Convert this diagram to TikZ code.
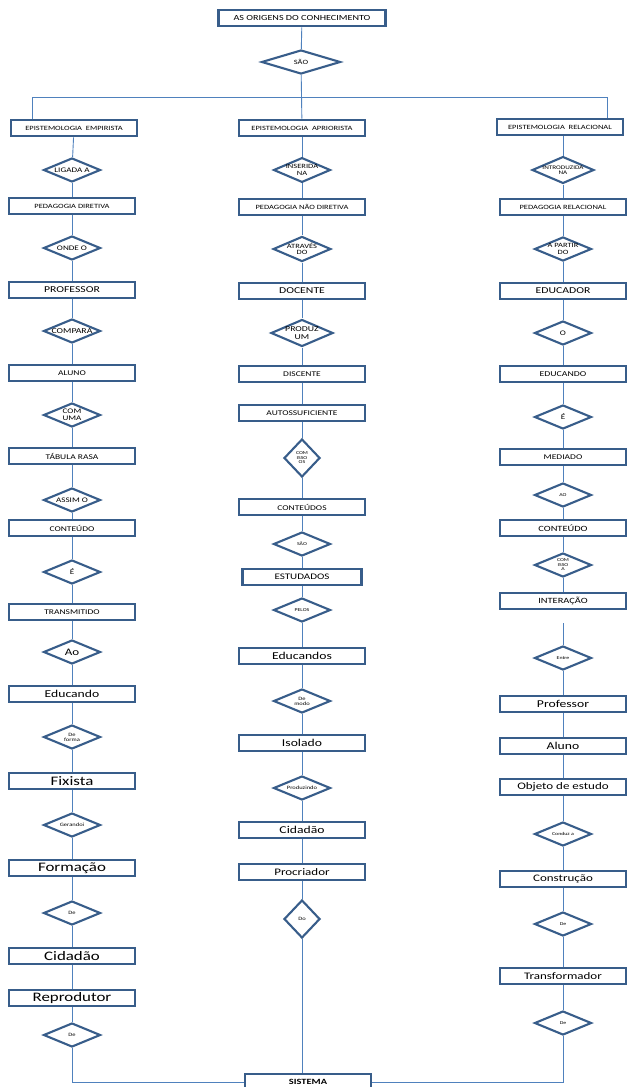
\documentclass[tikz,border=0pt]{standalone}
\usepackage{fontspec}
\setmainfont[FakeStretch=1.3]{Carlito}
\usetikzlibrary{shapes.geometric}
\definecolor{bordblue}{HTML}{385D8A}
\definecolor{lineblue}{HTML}{4F81BD}
\newcommand{\fsz}[1]{\fontsize{#1}{#1}\selectfont}

\begin{document}
\begin{tikzpicture}[x=1pt,y=-1pt,
      bx/.style={draw=bordblue,fill=white,line width=2.4pt,minimum width=126pt,
                 minimum height=16.5pt,inner sep=0pt,font=\fsz{7}},
      dm/.style={draw=bordblue,fill=white,line width=2.1pt,shape=diamond,aspect=2.3,
                 minimum width=57pt,minimum height=24pt,inner sep=0pt,align=center,font=\fsz{4.5}},
      tall/.style={aspect=1,minimum width=36pt,minimum height=38pt},
      ln/.style={lineblue,line width=0.9pt}]
    \fill[white] (0,0) rectangle (628,1087);
    \useasboundingbox (0,0) rectangle (628,1087);

    % topo
    \node[bx,minimum width=167pt,font=\fsz{7.8}] (top) at (302,18) {AS ORIGENS DO CONHECIMENTO};
    \node[dm,minimum width=79pt,font=\fsz{6.5}] (sao) at (301,62) {SÃO};

    % coluna esquerda
    \node[bx,font=\fsz{6.5}] (emp) at (74,128) {EPISTEMOLOGIA\ \ EMPIRISTA};
    \node[dm,font=\fsz{7}] (d1) at (72,170) {LIGADA A};
    \node[bx,font=\fsz{6.5}] (ped) at (72,206) {PEDAGOGIA DIRETIVA};
    \node[dm,font=\fsz{7}] (d2) at (72,248) {ONDE O};
    \node[bx,font=\fsz{9}] (prof) at (72,290) {PROFESSOR};
    \node[dm,font=\fsz{7.5}] (d3) at (72,331) {COMPARA};
    \node[bx,font=\fsz{7.3}] (alu) at (72,373) {ALUNO};
    \node[dm,font=\fsz{7}] (d4) at (72,415) {COM\\UMA};
    \node[bx,font=\fsz{7.3}] (tab) at (72,456) {TÁBULA RASA};
    \node[dm,font=\fsz{7}] (d5) at (72,500) {ASSIM O};
    \node[bx,font=\fsz{7.3}] (cont) at (72,528) {CONTEÚDO};
    \node[dm,font=\fsz{7}] (d6) at (72,572) {É};
    \node[bx,font=\fsz{7.3}] (trans) at (72,612) {TRANSMITIDO};
    \node[dm,font=\fsz{10}] (d7) at (72,652) {Ao};
    \node[bx,font=\fsz{10.5}] (educ) at (72,694) {Educando};
    \node[dm,font=\fsz{5}] (d8) at (72,737) {De\\forma};
    \node[bx,font=\fsz{13}] (fix) at (72,781) {Fixista};
    \node[dm,font=\fsz{5}] (d9) at (72,825) {Gerandoi};
    \node[bx,font=\fsz{13}] (form) at (72,868) {Formação};
    \node[dm,font=\fsz{5}] (d10) at (72,913) {De};
    \node[bx,font=\fsz{13}] (cid) at (72,956) {Cidadão};
    \node[bx,font=\fsz{13}] (rep) at (72,998) {Reprodutor};
    \node[dm,font=\fsz{5}] (d11) at (72,1035) {De};

    % coluna central
    \node[bx,font=\fsz{6.5}] (apr) at (302,128) {EPISTEMOLOGIA\ \ APRIORISTA};
    \node[dm,font=\fsz{6.5}] (m1) at (302,170) {INSERIDA\\NA};
    \node[bx,font=\fsz{6.5}] (pnd) at (302,207) {PEDAGOGIA NÃO DIRETIVA};
    \node[dm,font=\fsz{6.5}] (m2) at (302,249) {ATRAVÉS\\DO};
    \node[bx,font=\fsz{9}] (doc) at (302,291) {DOCENTE};
    \node[dm,font=\fsz{7.5}] (m3) at (302,333) {PRODUZ\\UM};
    \node[bx,font=\fsz{7.3}] (disc) at (302,374) {DISCENTE};
    \node[bx,font=\fsz{7.3}] (auto) at (302,413) {AUTOSSUFICIENTE};
    \node[dm,tall] (m4) at (302,458) {COM\\ISSO\\OS};
    \node[bx,font=\fsz{7.3}] (conts) at (302,507) {CONTEÚDOS};
    \node[dm] (m5) at (302,544) {SÃO};
    \node[bx,minimum width=119pt,font=\fsz{8.5}] (est) at (302,577) {ESTUDADOS};
    \node[dm] (m6) at (302,610) {PELOS};
    \node[bx,font=\fsz{10.5}] (educs) at (302,656) {Educandos};
    \node[dm,font=\fsz{5}] (m7) at (302,701) {De\\modo};
    \node[bx,font=\fsz{10.5}] (iso) at (302,743) {Isolado};
    \node[dm,font=\fsz{5}] (m8) at (302,788) {Produzindo};
    \node[bx,font=\fsz{10.5}] (cid2) at (302,830) {Cidadão};
    \node[bx,font=\fsz{10}] (proc) at (302,872) {Procriador};
    \node[dm,tall,font=\fsz{5}] (m9) at (302,919) {Do};
    \node[bx,font=\bfseries\fsz{8}] (sis) at (308,1082) {SISTEMA};

    % coluna direita
    \node[bx,font=\fsz{6.5}] (rel) at (560,127) {EPISTEMOLOGIA\ \ RELACIONAL};
    \node[dm,font=\fsz{5.5}] (r1) at (563,170) {INTRODUZIDA\\NA};
    \node[bx,font=\fsz{6.5}] (prel) at (563,207) {PEDAGOGIA RELACIONAL};
    \node[dm,font=\fsz{6.5}] (r2) at (563,249) {A PARTIR\\DO};
    \node[bx,font=\fsz{9}] (edr) at (563,291) {EDUCADOR};
    \node[dm,font=\fsz{7}] (r3) at (563,333) {O};
    \node[bx,font=\fsz{7.5}] (edc) at (563,374) {EDUCANDO};
    \node[dm,font=\fsz{7}] (r4) at (563,417) {É};
    \node[bx,font=\fsz{7.3}] (med) at (563,457) {MEDIADO};
    \node[dm] (r5) at (563,495) {AO};
    \node[bx,font=\fsz{8}] (conr) at (563,528) {CONTEÚDO};
    \node[dm] (r6) at (563,565) {COM\\ISSO\\A};
    \node[bx,font=\fsz{8}] (inter) at (563,601) {INTERAÇÃO};
    \coordinate (gap) at (563,623);
    \node[dm] (r7) at (563,658) {Entre};
    \node[bx,font=\fsz{10.5}] (profr) at (563,704) {Professor};
    \node[bx,font=\fsz{10.5}] (alur) at (563,746) {Aluno};
    \node[bx,font=\fsz{10}] (obj) at (563,787) {Objeto de estudo};
    \node[dm] (r8) at (563,834) {Conduz a};
    \node[bx,font=\fsz{10}] (cons) at (563,879) {Construção};
    \node[dm] (r9) at (563,924) {De};
    \node[bx,font=\fsz{10}] (transf) at (563,976) {Transformador};
    \node[dm] (r10) at (563,1023) {De};

    % ligacoes
    \coordinate (jl) at (32,97);
    \coordinate (jr) at (607,97);
    \draw[ln] (top) -- (sao);
    \draw[ln] (sao) -- (apr);
    \draw[ln] (emp.north -| jl) -- (jl) -- (jr) -- (rel.north -| jr);

    \draw[ln] (emp) -- (d1); \draw[ln] (d1) -- (ped); \draw[ln] (ped) -- (d2);
    \draw[ln] (d2) -- (prof); \draw[ln] (prof) -- (d3); \draw[ln] (d3) -- (alu);
    \draw[ln] (alu) -- (d4); \draw[ln] (d4) -- (tab); \draw[ln] (tab) -- (d5);
    \draw[ln] (d5) -- (cont); \draw[ln] (cont) -- (d6); \draw[ln] (d6) -- (trans);
    \draw[ln] (trans) -- (d7); \draw[ln] (d7) -- (educ); \draw[ln] (educ) -- (d8);
    \draw[ln] (d8) -- (fix); \draw[ln] (fix) -- (d9); \draw[ln] (d9) -- (form);
    \draw[ln] (form) -- (d10); \draw[ln] (d10) -- (cid); \draw[ln] (cid) -- (rep);
    \draw[ln] (rep) -- (d11);
    \draw[ln] (d11) |- (sis.west);

    \draw[ln] (apr) -- (m1); \draw[ln] (m1) -- (pnd); \draw[ln] (pnd) -- (m2);
    \draw[ln] (m2) -- (doc); \draw[ln] (doc) -- (m3); \draw[ln] (m3) -- (disc);
    \draw[ln] (disc) -- (auto); \draw[ln] (auto) -- (m4); \draw[ln] (m4) -- (conts);
    \draw[ln] (conts) -- (m5); \draw[ln] (m5) -- (est); \draw[ln] (est) -- (m6);
    \draw[ln] (m6) -- (educs); \draw[ln] (educs) -- (m7); \draw[ln] (m7) -- (iso);
    \draw[ln] (iso) -- (m8); \draw[ln] (m8) -- (cid2); \draw[ln] (cid2) -- (proc);
    \draw[ln] (proc) -- (m9);
    \draw[ln] (m9) -- (m9 |- sis.north);

    \draw[ln] (rel.south -| r1) -- (r1); \draw[ln] (r1) -- (prel); \draw[ln] (prel) -- (r2);
    \draw[ln] (r2) -- (edr); \draw[ln] (edr) -- (r3); \draw[ln] (r3) -- (edc);
    \draw[ln] (edc) -- (r4); \draw[ln] (r4) -- (med); \draw[ln] (med) -- (r5);
    \draw[ln] (r5) -- (conr); \draw[ln] (conr) -- (r6); \draw[ln] (r6) -- (inter);
    \draw[ln] (gap) -- (r7); \draw[ln] (r7) -- (profr); \draw[ln] (profr) -- (alur);
    \draw[ln] (alur) -- (obj); \draw[ln] (obj) -- (r8); \draw[ln] (r8) -- (cons);
    \draw[ln] (cons) -- (r9); \draw[ln] (r9) -- (transf); \draw[ln] (transf) -- (r10);
    \draw[ln] (r10) |- (sis.east);
  \end{tikzpicture}
\end{document}
